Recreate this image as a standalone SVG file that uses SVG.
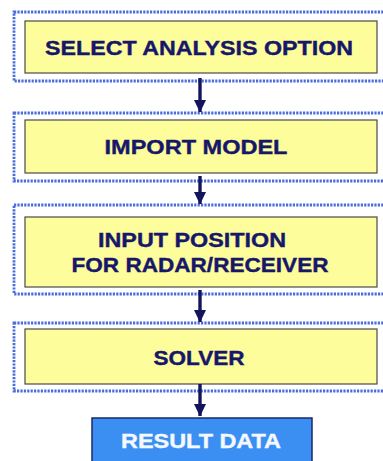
<svg xmlns="http://www.w3.org/2000/svg" width="383" height="461" viewBox="0 0 383 461">
<defs>
<style>
.grp{fill:none;stroke:#4a6ddb;stroke-width:2.8;stroke-dasharray:2.2 1.2}
.box{fill:#fdfd9c;stroke:#4a4a4a;stroke-width:1.2}
.lbl{font-family:"Liberation Sans",Arial,sans-serif;font-weight:bold;font-size:21px;fill:#17176a;text-anchor:middle;stroke:#17176a;stroke-width:0.4}
.res{fill:#3c8ff2;stroke:#1a2a6a;stroke-width:1.5}
.wl{fill:#f4f8ff;stroke:#f4f8ff}
.conn{stroke:#14145e;stroke-width:3.4;fill:none}
</style>
<marker id="ah" markerWidth="14" markerHeight="14" refX="12" refY="6.5" orient="auto" markerUnits="userSpaceOnUse" viewBox="0 0 14 13">
<path d="M0,0.5 L12.5,6.5 L0,12.5 z" fill="#14145e"/>
</marker>
</defs>
<rect width="383" height="461" fill="#ffffff"/>
<g id="n1">
<rect class="grp" x="14" y="12" width="380" height="69"/>
<rect class="box" x="25" y="21" width="352" height="52"/>
<text class="lbl" x="199" y="55" textLength="308" lengthAdjust="spacingAndGlyphs">SELECT ANALYSIS OPTION</text>
</g>
<g id="n2">
<rect class="grp" x="14" y="113" width="380" height="68"/>
<rect class="box" x="25" y="120" width="352" height="53"/>
<text class="lbl" x="196" y="154" textLength="183" lengthAdjust="spacingAndGlyphs">IMPORT MODEL</text>
</g>
<g id="n3">
<rect class="grp" x="14" y="205" width="380" height="89"/>
<rect class="box" x="25" y="217" width="352" height="70"/>
<text class="lbl" x="192" y="247" textLength="188" lengthAdjust="spacingAndGlyphs">INPUT POSITION</text>
<text class="lbl" x="200" y="272" textLength="257" lengthAdjust="spacingAndGlyphs">FOR RADAR/RECEIVER</text>
</g>
<g id="n4">
<rect class="grp" x="14" y="323" width="380" height="68"/>
<rect class="box" x="25" y="329" width="352" height="55"/>
<text class="lbl" x="199" y="365" textLength="91" lengthAdjust="spacingAndGlyphs">SOLVER</text>
</g>
<g id="n5">
<rect class="res" x="92" y="418" width="220" height="50"/>
<text class="lbl wl" x="201" y="448" textLength="160" lengthAdjust="spacingAndGlyphs">RESULT DATA</text>
</g>
<g id="connectors">
<line class="conn" x1="200" y1="78" x2="200" y2="112" marker-end="url(#ah)"/>
<line class="conn" x1="200" y1="176" x2="200" y2="204" marker-end="url(#ah)"/>
<line class="conn" x1="200" y1="290" x2="200" y2="322" marker-end="url(#ah)"/>
<line class="conn" x1="200" y1="384" x2="200" y2="416" marker-end="url(#ah)"/>
</g>
</svg>
